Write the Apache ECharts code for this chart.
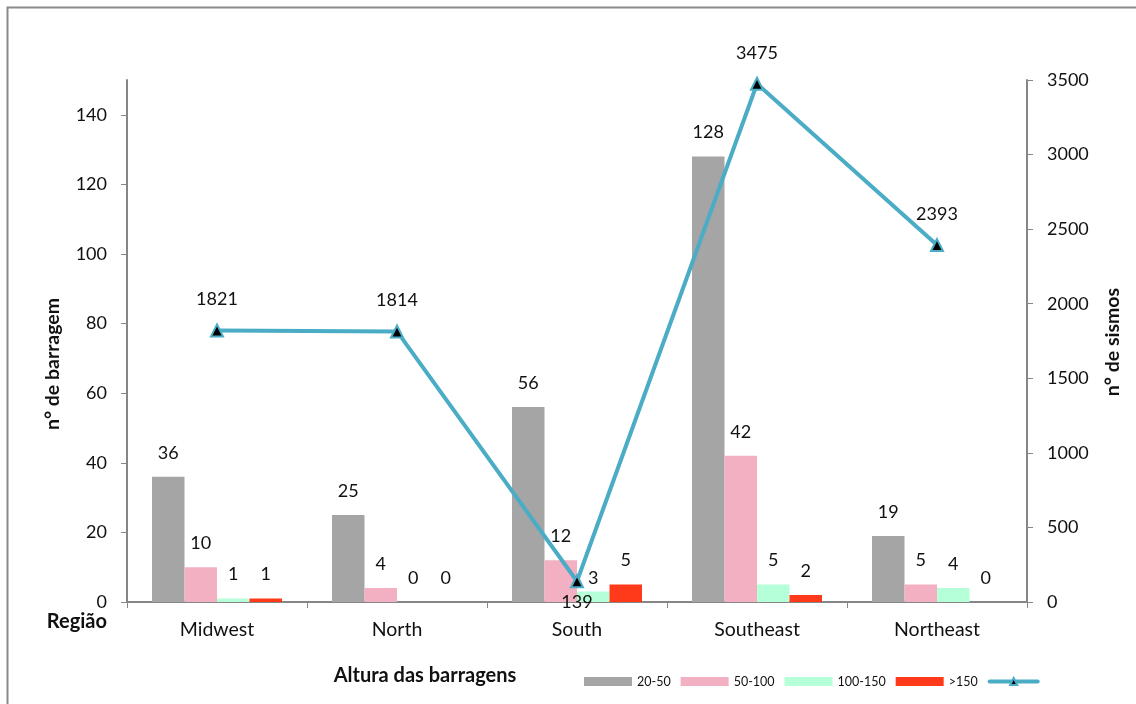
<!DOCTYPE html>
<html>
<head>
<meta charset="utf-8">
<script src="https://cdn.jsdelivr.net/npm/echarts@6/dist/echarts.min.js"></script>
<style>html,body{margin:0;padding:0;background:#fff;}#c{width:1136px;height:704px;}</style>
</head>
<body>
<div id="c"></div>
<script>
const categories = ['Midwest', 'North', 'South', 'Southeast', 'Northeast'];
const h20_50 = [36, 25, 56, 128, 19];
const h50_100 = [10, 4, 12, 42, 5];
const h100_150 = [1, 0, 3, 5, 4];
const h150 = [1, 0, 5, 2, 0];
const sismos = [1821, 1814, 139, 3475, 2393];
const seriesNames = ['20-50', '50-100', '100-150', '>150'];
const leftTicks = [0, 20, 40, 60, 80, 100, 120, 140];

const FONT = 'Lato, "Open Sans", sans-serif';
const colors = ['#A5A5A5', '#F2B0C2', '#B5FFD9', '#FF3A1A'];
const barData = [h20_50, h50_100, h100_150, h150];

const chart = echarts.init(document.getElementById('c'));

const barSeries = barData.map((arr, i) => ({
  name: seriesNames[i],
  type: 'bar',
  yAxisIndex: 0,
  barWidth: 32.5,
  barGap: '0%',
  itemStyle: { color: colors[i] },
  label: { show: true, position: 'top', distance: 15, color: '#111', fontSize: 18, fontFamily: FONT },
  data: arr.map((v, j) => {
    if (i === 2 && j === 2) return { value: v, label: { offset: [0, 11] } };
    return v;
  }),
  z: 2
}));

const lineSeries = {
  name: 'sismos',
  type: 'line',
  yAxisIndex: 1,
  symbol: 'triangle',
  symbolSize: 12,
  lineStyle: { color: '#4BACC6', width: 4 },
  itemStyle: { color: '#000', borderColor: '#4BACC6', borderWidth: 2 },
  label: { show: true, position: 'top', distance: 15, color: '#111', fontSize: 18, fontFamily: FONT },
  data: sismos.map((v, j) => (j === 2 ? { value: v, label: { position: 'bottom', distance: 5 } } : v)),
  z: 5
};

chart.setOption({
  animation: false,
  textStyle: { fontFamily: FONT },
  grid: { left: 127, right: 109, top: 80, bottom: 102, containLabel: false },
  legend: {
    left: 579, top: 670,
    itemWidth: 48, itemHeight: 9, itemGap: 10,
    textStyle: { fontSize: 12.5, color: '#111', fontFamily: FONT },
    formatter: n => (n === 'sismos' ? '' : n),
    data: [
      { name: '20-50', icon: 'rect' },
      { name: '50-100', icon: 'rect' },
      { name: '100-150', icon: 'rect' },
      { name: '>150', icon: 'rect' },
      { name: 'sismos', lineStyle: { width: 4, cap: 'round', color: '#4BACC6' } }
    ]
  },
  xAxis: {
    type: 'category',
    data: categories,
    boundaryGap: true,
    axisLine: { lineStyle: { color: '#868686', width: 2 } },
    axisTick: { show: true, length: 6, lineStyle: { color: '#868686', width: 1 } },
    axisLabel: { fontSize: 19.5, color: '#111', margin: 18, fontFamily: FONT },
    splitLine: { show: false }
  },
  yAxis: [
    {
      type: 'value', min: 0, max: 150, interval: 10,
      axisLine: { show: true, lineStyle: { color: '#868686', width: 2 } },
      axisTick: { show: true, length: 6, inside: false, customValues: leftTicks, lineStyle: { color: '#868686' } },
      axisLabel: { fontSize: 18, color: '#111', margin: 20, customValues: leftTicks, fontFamily: FONT },
      splitLine: { show: false }
    },
    {
      type: 'value', min: 0, max: 3500, interval: 500, position: 'right',
      axisLine: { show: true, lineStyle: { color: '#868686', width: 2 } },
      axisTick: { show: true, length: 6, lineStyle: { color: '#868686' } },
      axisLabel: { fontSize: 18, color: '#111', margin: 20, fontFamily: FONT, formatter: v => String(v) },
      splitLine: { show: false }
    }
  ],
  graphic: [
    { type: 'rect', shape: { x: 7.5, y: 7.5, width: 1200, height: 800 }, style: { fill: 'none', stroke: '#8a8a8a', lineWidth: 2 }, silent: true, z: -1 },
    { type: 'text', x: 53, y: 364, rotation: Math.PI / 2, style: { text: 'n° de barragem', font: 'bold 19.5px ' + FONT, fill: '#111', align: 'center', verticalAlign: 'middle' } },
    { type: 'text', x: 1113, y: 342, rotation: Math.PI / 2, style: { text: 'n° de sismos', font: 'bold 19.5px ' + FONT, fill: '#111', align: 'center', verticalAlign: 'middle' } },
    { type: 'text', x: 107, y: 622, style: { text: 'Região', font: 'bold 20px ' + FONT, fill: '#111', align: 'right', verticalAlign: 'middle' } },
    { type: 'text', x: 425, y: 676, style: { text: 'Altura das barragens', font: 'bold 20px ' + FONT, fill: '#111', align: 'center', verticalAlign: 'middle' } }
  ],
  series: [...barSeries, lineSeries]
});
</script>
</body>
</html>
